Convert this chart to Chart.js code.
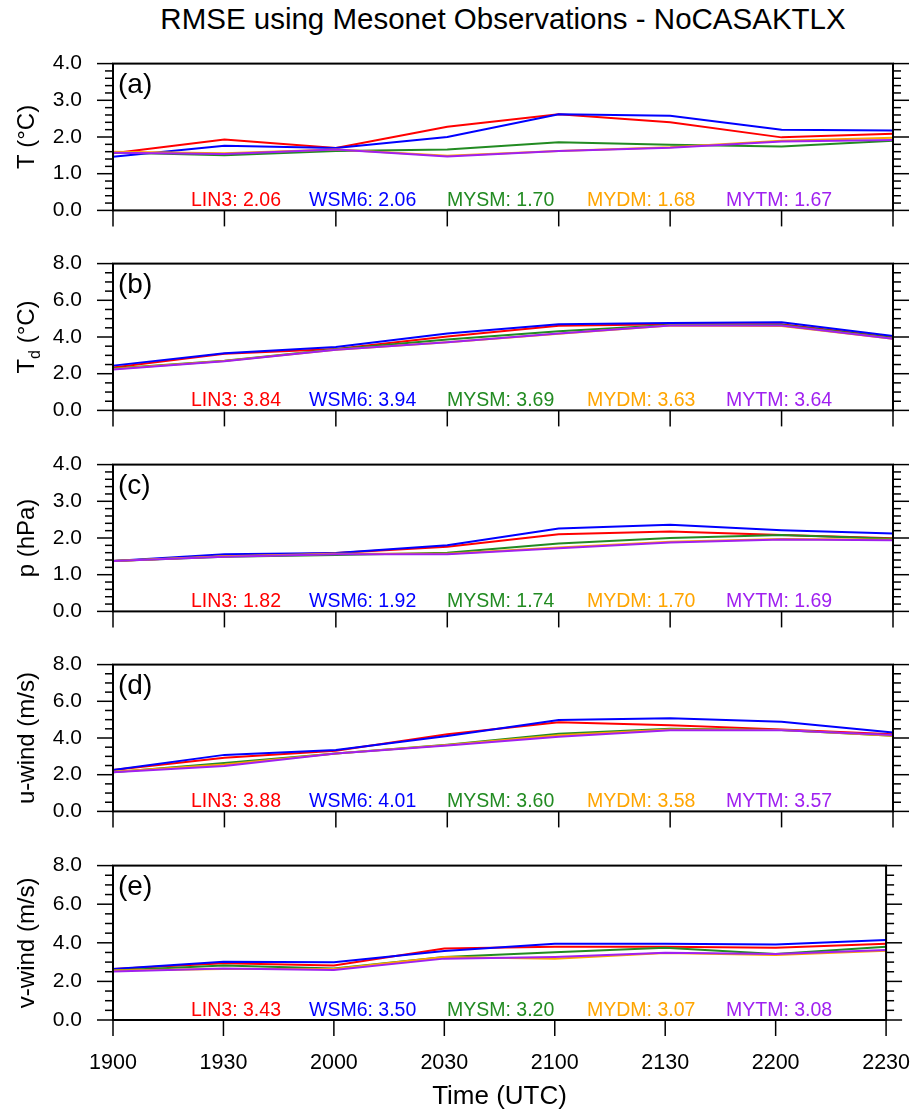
<!DOCTYPE html>
<html><head><meta charset="utf-8">
<script src="https://cdn.jsdelivr.net/npm/chart.js@4"></script>
<style>
body{margin:0;background:#fff;width:924px;height:1116px;position:relative;overflow:hidden;font-family:"Liberation Sans",Arial,Helvetica,sans-serif}
#title{position:absolute;left:0;width:1006px;top:4px;text-align:center;font-size:29.5px;line-height:29px;color:#000;white-space:nowrap}
canvas{position:absolute;left:0}
</style></head><body>
<div id="title">RMSE using Mesonet Observations - NoCASAKTLX</div>
<canvas id="c0" width="924" height="202" style="top:36px"></canvas>
<canvas id="c1" width="924" height="202" style="top:236px"></canvas>
<canvas id="c2" width="924" height="202" style="top:437px"></canvas>
<canvas id="c3" width="924" height="202" style="top:637px"></canvas>
<canvas id="c4" width="924" height="278" style="top:838px"></canvas>
<script>
const times = ["1900","1930","2000","2030","2100","2130","2200","2230"];
const schemes = ["LIN3","WSM6","MYSM","MYDM","MYTM"];
const schemeColors = ["#ff0000","#0000ff","#228b22","#ffa500","#a020f0"];

// (a) T
const tLIN3 = [1.56,1.93,1.70,2.28,2.62,2.40,1.99,2.09];
const tWSM6 = [1.46,1.76,1.70,2.00,2.62,2.58,2.20,2.18];
const tMYSM = [1.58,1.50,1.62,1.66,1.86,1.79,1.74,1.90];
const tMYDM = [1.60,1.56,1.66,1.49,1.62,1.72,1.90,1.98];
const tMYTM = [1.57,1.54,1.66,1.47,1.62,1.71,1.88,1.92];
const tRMSE = ["2.06","2.06","1.70","1.68","1.67"];
// (b) Td
const tdLIN3 = [2.34,3.09,3.35,4.03,4.61,4.70,4.70,3.98];
const tdWSM6 = [2.44,3.11,3.46,4.19,4.70,4.76,4.81,4.05];
const tdMYSM = [2.28,2.71,3.33,3.87,4.32,4.65,4.65,3.94];
const tdMYDM = [2.25,2.69,3.30,3.72,4.18,4.62,4.60,3.90];
const tdMYTM = [2.23,2.68,3.30,3.71,4.19,4.62,4.62,3.90];
const tdRMSE = ["3.84","3.94","3.69","3.63","3.64"];
// (c) p
const pLIN3 = [1.37,1.50,1.59,1.76,2.10,2.18,2.08,1.99];
const pWSM6 = [1.37,1.56,1.59,1.80,2.26,2.36,2.21,2.12];
const pMYSM = [1.37,1.49,1.54,1.60,1.85,2.00,2.08,1.98];
const pMYDM = [1.37,1.50,1.57,1.57,1.74,1.90,1.97,1.95];
const pMYTM = [1.37,1.49,1.56,1.56,1.72,1.88,1.96,1.94];
const pRMSE = ["1.82","1.92","1.74","1.70","1.69"];
// (d) u-wind
const uLIN3 = [2.25,2.92,3.31,4.20,4.86,4.70,4.47,4.20];
const uWSM6 = [2.25,3.08,3.35,4.11,4.98,5.08,4.89,4.30];
const uMYSM = [2.14,2.64,3.16,3.63,4.23,4.50,4.44,4.12];
const uMYDM = [2.16,2.55,3.16,3.62,4.15,4.46,4.43,4.12];
const uMYTM = [2.14,2.48,3.15,3.59,4.07,4.42,4.42,4.17];
const uRMSE = ["3.88","4.01","3.60","3.58","3.57"];
// (e) v-wind
const vLIN3 = [2.64,2.94,2.83,3.71,3.79,3.79,3.74,3.95];
const vWSM6 = [2.64,3.02,2.99,3.58,3.95,3.95,3.91,4.15];
const vMYSM = [2.56,2.83,2.67,3.26,3.51,3.74,3.42,3.79];
const vMYDM = [2.56,2.64,2.64,3.27,3.18,3.47,3.37,3.59];
const vMYTM = [2.51,2.67,2.59,3.18,3.27,3.48,3.42,3.63];
const vRMSE = ["3.43","3.50","3.20","3.07","3.08"];

const panelLabels = ["(a)","(b)","(c)","(d)","(e)"];
const yTitles = [
  [["T",0]," (°C)"],
  [["T",0],["d",1]," (°C)"],
  ["p (hPa)"],
  ["u-wind (m/s)"],
  ["v-wind (m/s)"]
];
const yMax = [4,8,4,8,8];
const yMajor = [1,2,1,2,2];
const yMinor = [0.2,0.5,0.2,0.5,0.5];

const panelSeries = [
  [tLIN3,tWSM6,tMYSM,tMYDM,tMYTM],
  [tdLIN3,tdWSM6,tdMYSM,tdMYDM,tdMYTM],
  [pLIN3,pWSM6,pMYSM,pMYDM,pMYTM],
  [uLIN3,uWSM6,uMYSM,uMYDM,uMYTM],
  [vLIN3,vWSM6,vMYSM,vMYDM,vMYTM]
];
const panelRMSE = [tRMSE,tdRMSE,pRMSE,uRMSE,vRMSE];

const FAMILY = '"Liberation Sans", Arial, Helvetica, sans-serif';
const annotX = [191,309,447,587,726];
const drawOrder = [4,3,2,1,0];

const framePlugin = {
  id:'frame',
  afterDatasetsDraw(chart, args, o){
    const ctx = chart.ctx;
    const {left,right,top,bottom} = chart.chartArea;
    const xs = chart.scales.x, ys = chart.scales.y;
    ctx.save();
    ctx.strokeStyle = '#000';
    ctx.lineWidth = 1.5;
    const line=(a,b,c,d)=>{ctx.beginPath();ctx.moveTo(a,b);ctx.lineTo(c,d);ctx.stroke();};
    const n = Math.round(o.max/o.minor);
    for(let i=0;i<=n;i++){
      const v=i*o.minor;
      const py=ys.getPixelForValue(v);
      const r=v/o.major;
      const major=Math.abs(r-Math.round(r))<1e-6;
      const len=major?16:8;
      line(left-len,py,left,py);
      line(right,py,right+len,py);
    }
    times.forEach((t,i)=>{const px=xs.getPixelForValue(i);line(px,bottom,px,bottom+16);});
    ctx.lineWidth=2;
    ctx.strokeRect(left,top,right-left,bottom-top);
    // panel label
    ctx.fillStyle='#000';
    ctx.font='28px '+FAMILY;
    ctx.textAlign='left';ctx.textBaseline='alphabetic';
    ctx.fillText(o.label,left+5,top+29.5);
    // annotations
    ctx.font='19.5px '+FAMILY;
    schemes.forEach((s,i)=>{
      ctx.fillStyle=schemeColors[i];
      ctx.fillText(s+': '+o.rmse[i],annotX[i],bottom-4);
    });
    // y title
    ctx.fillStyle='#000';
    ctx.translate(o.titleX,(top+bottom)/2);
    ctx.rotate(-Math.PI/2);
    const parts=o.ytitle.map(p=>typeof p==='string'?[p,0]:p);
    let w=0;
    parts.forEach(p=>{ctx.font=(p[1]?'16px ':'24px ')+FAMILY;w+=ctx.measureText(p[0]).width;});
    let x=-w/2;
    parts.forEach(p=>{
      ctx.font=(p[1]?'16px ':'24px ')+FAMILY;
      ctx.fillText(p[0],x,p[1]?6:0);
      x+=ctx.measureText(p[0]).width;
    });
    ctx.restore();
  }
};

const canvasH=[202,202,202,202,278];
panelSeries.forEach((series,k)=>{
  const isLast = k===4;
  const xH = canvasH[k]-15-167;
  new Chart(document.getElementById('c'+k),{
    type:'line',
    data:{labels:times,datasets:schemes.map((s,i)=>({
      label:s,data:series[i],borderColor:schemeColors[i],borderWidth:2,
      pointRadius:0,tension:0,fill:false,order:drawOrder[i]}))},
    options:{
      responsive:false,animation:false,
      layout:{padding:{left:0,right:31,top:15,bottom:0}},
      plugins:{legend:{display:false},tooltip:{enabled:false},
        frame:{max:yMax[k],major:yMajor[k],minor:yMinor[k],label:panelLabels[k],rmse:panelRMSE[k],ytitle:yTitles[k],titleX:34}},
      scales:{
        x:{type:'category',offset:false,
          grid:{display:false,drawTicks:true,tickLength:16},border:{display:false},
          ticks:{display:isLast,color:'#000',font:{size:21.5,family:FAMILY},padding:14,maxRotation:0,autoSkip:false},
          title:{display:isLast,text:'Time (UTC)',color:'#000',font:{size:26,family:FAMILY},padding:{top:0,bottom:4}},
          afterFit(s){s.height=xH;}},
        y:{min:0,max:yMax[k],
          grid:{display:false,drawTicks:true,tickLength:16},border:{display:false},
          ticks:{stepSize:yMajor[k],color:'#000',font:{size:21,family:FAMILY},padding:15,callback:v=>v.toFixed(1)},
          afterFit(s){s.width=113;}}
      }
    },
    plugins:[framePlugin]
  });
});
</script>
</body></html>
